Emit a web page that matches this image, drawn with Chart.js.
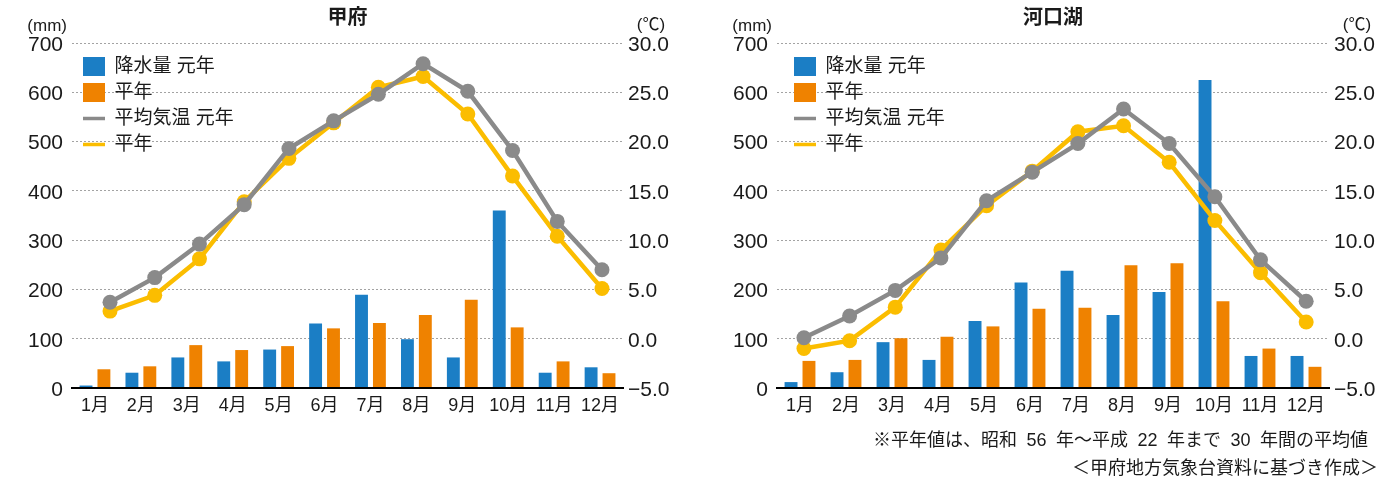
<!DOCTYPE html>
<html lang="ja">
<head>
<meta charset="utf-8">
<title>甲府・河口湖 降水量と平均気温</title>
<script src="https://cdn.jsdelivr.net/npm/chart.js@4.4.1/dist/chart.umd.min.js"></script>
<style>
  html, body { margin: 0; padding: 0; background: #fff; }
  #wrap { position: relative; width: 1379px; height: 479px; overflow: hidden;
          font-family: "Liberation Sans", "Noto Sans CJK JP", sans-serif; color: #1a1a1a; }
  canvas { position: absolute; top: 0; }
  .left { left: 0; }
  .right { left: 690px; }
  .note { position: absolute; font-size: 18px; line-height: 28px; white-space: nowrap; word-spacing: 4.5px; }
  #note1 { right: 11px; top: 426px; }
  #note2 { right: 1px; top: 454px; }
</style>
</head>
<body>
<div id="wrap">
  <!-- bars + axes underneath, temperature lines + legend on a canvas over them -->
  <canvas id="kofuBars" class="left" width="690" height="425"></canvas>
  <canvas id="kofuLines" class="left" width="690" height="425"></canvas>
  <canvas id="kawaBars" class="right" width="689" height="425"></canvas>
  <canvas id="kawaLines" class="right" width="689" height="425"></canvas>
  <div class="note" id="note1">※平年値は、昭和 56 年～平成 22 年まで 30 年間の平均値</div>
  <div class="note" id="note2">＜甲府地方気象台資料に基づき作成＞</div>
</div>
<script>
const months = ['1月', '2月', '3月', '4月', '5月', '6月', '7月', '8月', '9月', '10月', '11月', '12月'];
const seriesNames = ['降水量 元年', '平年', '平均気温 元年', '平年'];

// 甲府
const kofuRain = [5, 31, 62, 54, 78, 131, 189, 99, 62, 360, 31, 42];
const kofuRainNormal = [38, 44, 87, 77, 85, 121, 132, 148, 179, 123, 54, 30];
const kofuTemp = [3.7, 6.2, 9.6, 13.6, 19.3, 22.1, 24.8, 27.9, 25.1, 19.1, 11.9, 7.0];
const kofuTempNormal = [2.8, 4.4, 8.1, 13.9, 18.3, 21.9, 25.5, 26.6, 22.8, 16.5, 10.4, 5.1];

// 河口湖
const kawaRain = [12, 32, 93, 57, 136, 214, 238, 148, 195, 625, 65, 65];
const kawaRainNormal = [55, 57, 101, 104, 125, 161, 163, 249, 253, 176, 80, 43];
const kawaTemp = [0.1, 2.3, 4.9, 8.2, 14.0, 16.9, 19.8, 23.3, 19.8, 14.4, 8.0, 3.8];
const kawaTempNormal = [-1.0, -0.2, 3.2, 9.0, 13.5, 17.0, 21.0, 21.6, 17.9, 12.0, 6.7, 1.7];

// axes
const rainTicks = {min: 0, max: 700, step: 100};
const tempTicks = {min: -5, max: 30, step: 5};

const FONT = '"Liberation Sans", "Noto Sans CJK JP", sans-serif';
const INK = '#1a1a1a';
const BLUE = '#1b7ec5';
const ORANGE = '#ef8200';
const GRAY = '#8a8a8a';
const YELLOW = '#fbbd00';
const seriesColors = [BLUE, ORANGE, GRAY, YELLOW];

const TOP = 43;      // plot top (title row above it)
const XAXIS_H = 37;  // month labels below the plot

Chart.defaults.font.family = FONT;
Chart.defaults.color = INK;
Chart.defaults.animation = false;
Chart.defaults.events = [];
Chart.defaults.plugins.tooltip.enabled = false;

// (mm) / (℃) above the axes
const unitLabels = {
  id: 'unitLabels',
  afterDraw(chart) {
    const {ctx} = chart;
    const {y, y1} = chart.scales;
    ctx.save();
    ctx.font = '17px ' + FONT;
    ctx.fillStyle = INK;
    ctx.textBaseline = 'middle';
    ctx.textAlign = 'right';
    ctx.fillText('(mm)', y.right - 5, 26);
    ctx.textAlign = 'center';
    ctx.fillText('(℃)', y1.left + 28, 25);
    ctx.restore();
  }
};

// a vertical legend placed in the chart area gets top = 0, so put it back inside the plot
const legendShift = {
  id: 'legendShift',
  afterLayout(chart, args, opts) {
    const lg = chart.legend;
    const h = lg.height;
    lg.left = chart.chartArea.left + opts.dx;
    lg.top = chart.chartArea.top + opts.dy;
    lg.bottom = lg.top + h;
  }
};

function tempLabel(v) {
  return (v < 0 ? '\u2212' : '') + Math.abs(v).toFixed(1);
}

function toPoints(arr) {
  return arr.map((v, i) => ({x: i + 1, y: v}));
}

function legendItems() {
  return seriesNames.map((name, i) => ({
    text: name,
    datasetIndex: i,
    fillStyle: seriesColors[i],
    strokeStyle: seriesColors[i],
    lineWidth: i < 2 ? 0 : 3.5,
    pointStyle: i < 2 ? 'rect' : 'line',
    fontColor: INK,
    hidden: false
  }));
}

function buildBars(id, title, rain, rainNormal, box) {
  return new Chart(document.getElementById(id), {
    type: 'bar',
    data: {
      labels: months,
      datasets: [
        {label: seriesNames[0], data: rain, backgroundColor: BLUE},
        {label: seriesNames[1], data: rainNormal, backgroundColor: ORANGE}
      ]
    },
    options: {
      responsive: false,
      categoryPercentage: 0.78,
      barPercentage: 0.72,
      layout: {padding: 0},
      plugins: {
        title: {display: true, text: title, fullSize: false, color: INK,
                font: {size: 20, weight: 'bold', family: '"Noto Sans CJK JP", sans-serif'},
                padding: {top: 4, bottom: 15}},
        legend: {display: false}
      },
      scales: {
        x: {
          offset: true,
          grid: {display: false, drawTicks: false},
          border: {display: true, color: '#000', width: 2, z: 1},
          ticks: {autoSkip: false, maxRotation: 0, padding: 7, font: {size: 18}},
          afterFit: (s) => { s.height = XAXIS_H; }
        },
        y: {
          position: 'left',
          min: rainTicks.min, max: rainTicks.max,
          ticks: {stepSize: rainTicks.step, padding: 9, labelOffset: 2, font: {size: 21}},
          grid: {color: '#a3a3a3', lineWidth: 1, drawTicks: false},
          border: {display: false, dash: [2, 2]},
          afterFit: (s) => { s.width = box.leftW; }
        },
        y1: {
          position: 'right',
          min: tempTicks.min, max: tempTicks.max,
          ticks: {stepSize: tempTicks.step, padding: 5, labelOffset: 2, font: {size: 21}, callback: tempLabel},
          grid: {display: false, drawTicks: false},
          border: {display: false},
          afterFit: (s) => { s.width = box.rightW; }
        }
      }
    },
    plugins: [unitLabels]
  });
}

function buildLines(id, temp, tempNormal, box) {
  const lineStyle = (color) => ({
    borderColor: color, backgroundColor: color, borderWidth: 4.5,
    pointRadius: 7.5, pointBackgroundColor: color, pointBorderWidth: 0
  });
  return new Chart(document.getElementById(id), {
    type: 'line',
    data: {
      datasets: [
        // first dataset is drawn on top
        Object.assign({label: seriesNames[2], data: toPoints(temp)}, lineStyle(GRAY)),
        Object.assign({label: seriesNames[3], data: toPoints(tempNormal)}, lineStyle(YELLOW))
      ]
    },
    options: {
      responsive: false,
      layout: {padding: {left: box.leftW, right: box.rightW, top: TOP, bottom: XAXIS_H}},
      plugins: {
        legend: {
          position: 'chartArea',
          align: 'start',
          labels: {
            usePointStyle: true,
            pointStyleWidth: 22,
            boxHeight: 19,
            padding: 7,
            color: INK,
            font: {size: 19},
            generateLabels: legendItems
          }
        },
        legendShift: {dx: box.dx, dy: 7}
      },
      scales: {
        x: {type: 'linear', display: false, min: box.x2min, max: box.x2max},
        y: {display: false, min: tempTicks.min, max: tempTicks.max}
      }
    },
    plugins: [legendShift]
  });
}

const kofuBox = {leftW: 72, rightW: 67, dx: 4, x2min: 0.15, x2max: 12.47};
const kawaBox = {leftW: 87, rightW: 50, dx: 10, x2min: 0.41, x2max: 12.5};

buildBars('kofuBars', '甲府', kofuRain, kofuRainNormal, kofuBox);
buildLines('kofuLines', kofuTemp, kofuTempNormal, kofuBox);
buildBars('kawaBars', '河口湖', kawaRain, kawaRainNormal, kawaBox);
buildLines('kawaLines', kawaTemp, kawaTempNormal, kawaBox);
</script>
</body>
</html>
